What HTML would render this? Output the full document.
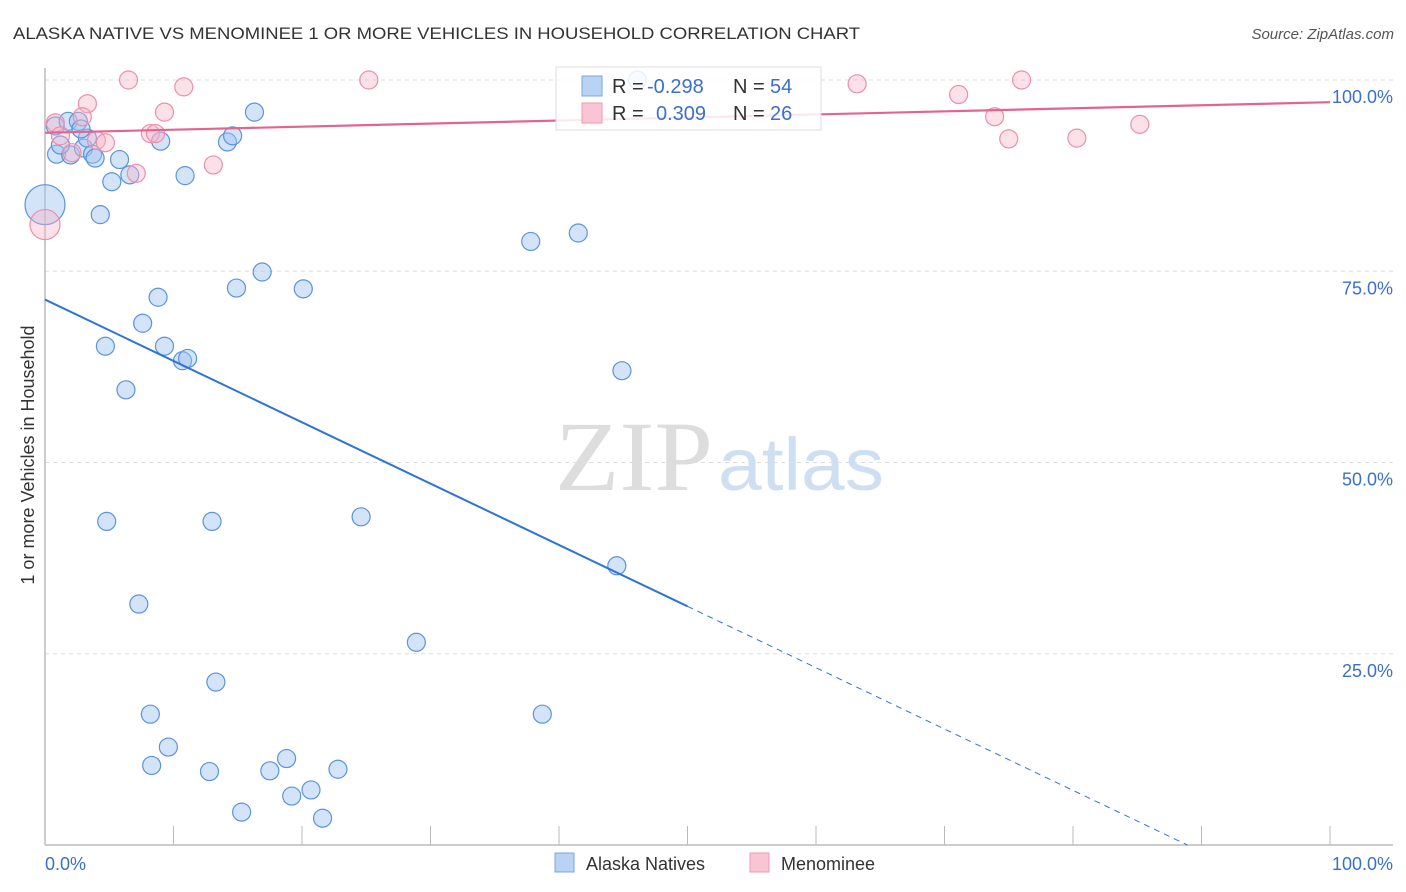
<!DOCTYPE html>
<html><head><meta charset="utf-8"><style>
body{margin:0;background:#fff;}
svg{display:block;font-family:"Liberation Sans",sans-serif;}
</style></head><body>
<svg id="chart" width="1406" height="892">
<text x="13" y="39" font-size="17" fill="#333" textLength="847" lengthAdjust="spacingAndGlyphs">ALASKA NATIVE VS MENOMINEE 1 OR MORE VEHICLES IN HOUSEHOLD CORRELATION CHART</text>
<text x="1394" y="39" font-size="15" fill="#555" font-style="italic" text-anchor="end">Source: ZipAtlas.com</text>
<g id="grid"></g>
<g id="axes"></g>
<text x="634" y="490" font-size="100" fill="#ddd" font-family="Liberation Serif,serif" text-anchor="middle" textLength="158" lengthAdjust="spacingAndGlyphs">ZIP</text>
<text x="801" y="490" font-size="74" fill="#cfdff2" text-anchor="middle" textLength="166" lengthAdjust="spacingAndGlyphs">atlas</text>
<g id="points"></g>
<g id="lines"></g>
<text transform="translate(34,455) rotate(-90)" font-size="18" fill="#333" text-anchor="middle">1 or more Vehicles in Household</text>
<g>
<rect x="556" y="67" width="265" height="63" fill="rgba(255,255,255,0.85)" stroke="#ddd"/>
<rect x="582" y="76" width="20" height="20" fill="#b9d3f5" stroke="#7aa6e0"/>
<rect x="582" y="103" width="20" height="20" fill="#f9c4d3" stroke="#ee9ab2"/>
<text x="612" y="93" font-size="20" fill="#333">R = <tspan fill="#3a6fd0" x="647">-0.298</tspan></text>
<text x="733" y="93" font-size="20" fill="#333">N = <tspan fill="#3a6fd0" x="770">54</tspan></text>
<text x="612" y="120" font-size="20" fill="#333">R = <tspan fill="#3a6fd0" x="656">0.309</tspan></text>
<text x="733" y="120" font-size="20" fill="#333">N = <tspan fill="#3a6fd0" x="770">26</tspan></text>
</g>
<g>
<rect x="555" y="853" width="19" height="19" fill="#b9d3f5" stroke="#7aa6e0"/>
<text x="586" y="870" font-size="18" fill="#333">Alaska Natives</text>
<rect x="750" y="853" width="19" height="19" fill="#f9c4d3" stroke="#ee9ab2"/>
<text x="781" y="870" font-size="18" fill="#333">Menominee</text>
</g>
</svg>
<script>
const yTicks=[25,50,75,100];
const xTickLabels=["0.0%","100.0%"];
const blueX=[0,0.8,0.9,1.8,2,2.6,3,3.3,3.7,3.9,4.3,5.2,5.8,6.6,9,10.9,14.2,14.6,16.3,1.2,2.8,4.7,6.3,7.6,8.8,9.3,10.7,11.1,14.9,16.9,20.1,37.8,41.5,44.9,4.8,13,24.6,44.5,7.3,28.9,13.3,8.2,38.7,9.6,8.3,12.8,17.5,18.8,15.3,19.2,20.7,21.6,22.8,46.1];
const blueY=[83.7,94,90.3,94.6,90.2,94.6,91.1,92.4,90.3,89.8,82.4,86.7,89.6,87.6,92,87.5,91.9,92.7,95.8,91.5,93.6,65.2,59.5,68.2,71.6,65.2,63.3,63.6,72.8,74.9,72.7,78.9,80,62,42.3,42.3,42.9,36.5,31.5,26.5,21.3,17.1,17.1,12.8,10.4,9.6,9.7,11.3,4.3,6.4,7.2,3.5,9.9,100];
const blueR=[20];
const pinkX=[0,0.8,1.2,2.1,3.3,2.9,4,4.7,6.5,7.1,8.2,8.6,9.3,10.8,13.1,25.2,63.2,71.1,73.9,75,76,80.3,85.2];
const pinkY=[81.1,94.4,92.7,90.5,96.9,95.2,92.1,91.8,100,87.8,93,93,95.8,99.1,88.9,100,99.5,98.1,95.2,92.3,100,92.4,94.2];
const blueFit=[71.3,-8.9];
const pinkFit=[93.1,97.1];
const NS="http://www.w3.org/2000/svg";
const X0=45,X1=1330,Y0=845,Y100=80;
const sx=v=>X0+(X1-X0)*v/100;
const sy=v=>Y0-(Y0-Y100)*v/100;
function mk(tag,attrs,parent){const e=document.createElementNS(NS,tag);for(const k in attrs)e.setAttribute(k,attrs[k]);document.getElementById(parent).appendChild(e);return e;}
yTicks.forEach(t=>{
 const l=mk('line',{x1:X0,x2:1393,y1:sy(t),y2:sy(t),stroke:'#ddd','stroke-dasharray':'4,4'},'grid');
 
 
 const tx=mk('text',{x:1393,y:sy(t)+23,'font-size':18,fill:'#3a6fd0','text-anchor':'end'},'grid');
 tx.textContent=t.toFixed(1)+'%';
 
 
});
const ax=mk('line',{x1:X0,x2:1393,y1:Y0,y2:Y0,stroke:'#bbb','stroke-width':1.5},'axes');


const ay=mk('line',{x1:X0,x2:X0,y1:68,y2:Y0,stroke:'#bbb','stroke-width':1.5},'axes');


for(let i=0;i<=10;i++){
 const t=mk('line',{x1:sx(i*10),x2:sx(i*10),y1:826,y2:Y0,stroke:'#bbb'},'axes');
 
 
}
[[0,'start'],[100,'end']].forEach((p,i)=>{
 const t=mk('text',{x:i?1393:45,y:870,'font-size':18,fill:'#3a6fd0','text-anchor':p[1]},'axes');
 t.textContent=xTickLabels[i];
 
 
});
blueX.forEach((v,i)=>{
 const c=mk('circle',{cx:sx(v),cy:sy(blueY[i]),r:blueR[i]||9,fill:'rgba(160,196,240,0.45)',stroke:'#5b93dd','stroke-width':1.2},'points');
 
 
});
pinkX.forEach((v,i)=>{
 const c=mk('circle',{cx:sx(v),cy:sy(pinkY[i]),r:i==0?15:9,fill:'rgba(248,180,200,0.4)',stroke:'#ec8fab','stroke-width':1.2},'points');
 
 
});
const bAt=x=>blueFit[0]+(blueFit[1]-blueFit[0])*x/100;
const zeroX=blueFit[0]/(blueFit[0]-blueFit[1])*100;
const b1=mk('line',{x1:sx(0),y1:sy(bAt(0)),x2:sx(50),y2:sy(bAt(50)),stroke:'#2e74d6','stroke-width':2},'lines');


const b2=mk('line',{x1:sx(50),y1:sy(bAt(50)),x2:sx(zeroX),y2:sy(0),stroke:'#2e74d6','stroke-width':1,'stroke-dasharray':'6,5'},'lines');


const p1=mk('line',{x1:sx(0),y1:sy(pinkFit[0]),x2:sx(100),y2:sy(pinkFit[1]),stroke:'#e4648e','stroke-width':2.2},'lines');


</script>
</body></html>
